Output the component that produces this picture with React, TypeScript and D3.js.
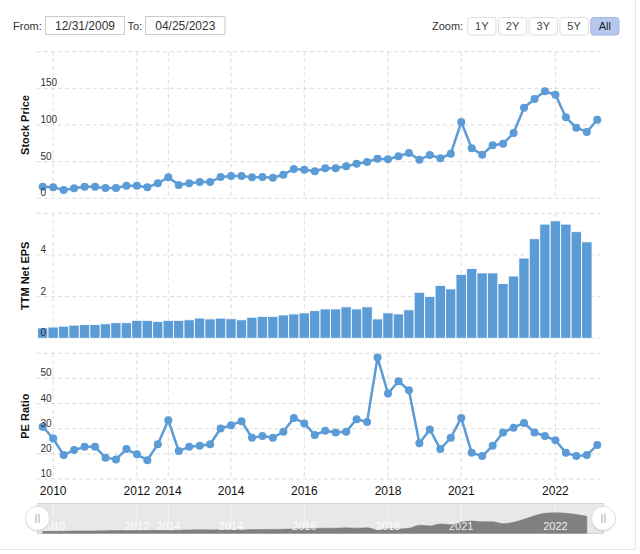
import React from "react";
import * as d3 from "d3";

const priceValues = [
  15.8, 15.0, 11.3, 13.6, 15.8, 15.8, 14.0, 14.0, 17.2, 17.2, 15.0, 20.5, 28.6, 18.1,
  20.5, 22.2, 22.2, 29.0, 30.4, 30.4, 28.6, 29.0, 28.1, 32.2, 40.0, 39.0, 36.8,
  40.9, 40.9, 43.6, 47.2, 49.5, 54.0, 53.2, 57.3, 61.8, 52.7, 59.0, 54.6, 60.8,
  104.0, 68.2, 59.5, 72.3, 74.5, 89.0, 123.6, 135.5, 146.0, 141.3, 110.5, 96.3, 90.5, 107.2,
];

const epsValues = [
  0.5, 0.54, 0.58, 0.63, 0.66, 0.66, 0.7, 0.75, 0.75, 0.86, 0.86, 0.81, 0.86, 0.86,
  0.89, 0.97, 0.93, 0.97, 0.94, 0.89, 1.01, 1.05, 1.05, 1.12, 1.17, 1.22, 1.33,
  1.41, 1.41, 1.51, 1.41, 1.51, 0.93, 1.22, 1.17, 1.37, 2.21, 2.01, 2.54, 2.37,
  3.07, 3.35, 3.14, 3.14, 2.63, 2.99, 3.85, 4.78, 5.48, 5.64, 5.48, 5.12, 4.63,
];

const peValues = [
  30.8, 26.1, 19.5, 21.5, 22.8, 22.8, 18.5, 17.8, 21.9, 19.8, 17.5, 23.8, 33.4, 21.1,
  22.8, 23.2, 23.8, 30.1, 31.4, 33.0, 26.4, 27.1, 26.4, 28.8, 34.3, 32.1, 27.5,
  29.2, 28.5, 28.8, 33.8, 32.7, 58.3, 44.0, 48.9, 45.3, 24.2, 29.7, 21.9, 26.4,
  34.3, 20.4, 19.1, 23.2, 28.5, 30.4, 32.3, 28.5, 27.1, 25.4, 20.4, 19.1, 19.5, 23.5,
];

const tickIndex = [1, 9, 12, 18, 25, 33, 40, 49];
const tickLabels = ["2010", "2012", "2014", "2014", "2016", "2018", "2021", "2022"];

const priceTicks = [0, 50, 100, 150, 200];
const epsTicks = [0, 2, 4, 6];
const peTicks = [10, 20, 30, 40, 50, 60];

const zoomButtons = ["1Y", "2Y", "3Y", "5Y", "All"];
const fromDate = "12/31/2009";
const toDate = "04/25/2023";

const BLUE = "#5b9bd6";
const GRID = "#dcdcdc";
const FONT = "'Liberation Sans', Arial, Helvetica, sans-serif";

const X0 = 37;
const X1 = 600.5;

export default function App() {
  const x = d3
    .scaleBand<number>()
    .domain(d3.range(priceValues.length))
    .range([37.5, 602.5])
    .padding(0);
  const bw = x.bandwidth();
  const cx = (i: number) => (x(i) as number) + bw / 2;

  const yPrice = d3.scaleLinear().domain([0, 200]).range([198.3, 51.7]);
  const yEps = d3.scaleLinear().domain([0, 6]).range([338.3, 213.3]);
  const yPe = d3.scaleLinear().domain([10, 60]).range([479, 353.3]);
  const yNav = d3.scaleLinear().domain([0, 8.2]).range([533.3, 503.3]);

  const priceLine = d3
    .line<number>()
    .x((_, i) => cx(i))
    .y((d) => yPrice(d))(priceValues);
  const peLine = d3
    .line<number>()
    .x((_, i) => cx(i))
    .y((d) => yPe(d))(peValues);
  const navArea = d3
    .area<number>()
    .x((_, i) => cx(i))
    .y0(yNav(0))
    .y1((d) => yNav(d))
    .curve(d3.curveMonotoneX)(epsValues);

  const panels = [
    { scale: yPrice, ticks: priceTicks, title: "Stock Price" },
    { scale: yEps, ticks: epsTicks, title: "TTM Net EPS" },
    { scale: yPe, ticks: peTicks, title: "PE Ratio" },
  ];

  return (
    <svg
      width={640}
      height={554}
      style={{ position: "absolute", left: 0, top: 0, background: "#fff" }}
      fontFamily={FONT}
    >
      <rect x={0} y={0} width={640} height={554} fill="#fff" />
      {/* card border */}
      <line x1={635.5} x2={635.5} y1={0} y2={549.5} stroke="#e6e6e6" />
      <line x1={0} x2={635.5} y1={549.5} y2={549.5} stroke="#e6e6e6" />

      {/* range inputs */}
      <text x={13} y={29.5} fontSize={11} fill="#333">From:</text>
      <rect x={45.5} y={16.5} width={79} height={18} fill="#fff" stroke="#cccccc" />
      <text x={85} y={30} fontSize={12} fill="#333" textAnchor="middle">{fromDate}</text>
      <text x={127.5} y={29.5} fontSize={11} fill="#333">To:</text>
      <rect x={145.5} y={16.5} width={79.5} height={18} fill="#fff" stroke="#cccccc" />
      <text x={185.3} y={30} fontSize={12} fill="#333" textAnchor="middle">{toDate}</text>

      <text x={432} y={29.5} fontSize={11} fill="#333">Zoom:</text>
      {zoomButtons.map((b, i) => {
        const bx = 467.7 + i * 30.75;
        const sel = b === "All";
        return (
          <g key={b}>
            <rect
              x={bx}
              y={17.5}
              width={28.3}
              height={17.5}
              rx={3}
              fill={sel ? "#b7c8f0" : "#fff"}
              stroke={sel ? "#a4b7e6" : "#dedede"}
            />
            <text x={bx + 14.15} y={30} fontSize={11} fill={sel ? "#222" : "#444"} textAnchor="middle">
              {b}
            </text>
          </g>
        );
      })}

      {/* grids and axes */}
      {panels.map((p, pi) => {
        const [top, bottom] = [p.scale.range()[1], p.scale.range()[0]];
        const lastTick = p.ticks[p.ticks.length - 1];
        return (
          <g key={pi}>
            {tickIndex.map((ti) => (
              <line
                key={"v" + ti}
                x1={cx(ti)}
                x2={cx(ti)}
                y1={top}
                y2={bottom}
                stroke={GRID}
                strokeDasharray="4,3"
              />
            ))}
            {p.ticks.map((t) => (
              <line
                key={"h" + t}
                x1={X0}
                x2={X1}
                y1={p.scale(t)}
                y2={p.scale(t)}
                stroke={GRID}
                strokeDasharray="4,3"
              />
            ))}
            <text
              transform={`translate(29,${(top + bottom) / 2}) rotate(-90)`}
              textAnchor="middle"
              fontSize={11}
              fontWeight="bold"
              fill="#111"
            >
              {p.title}
            </text>
          </g>
        );
      })}

      {/* EPS bars */}
      {epsValues.map((v, i) => (
        <rect
          key={i}
          x={x(i)}
          y={yEps(v)}
          width={bw}
          height={yEps(0) - yEps(v)}
          fill={BLUE}
          stroke="#ffffff"
          strokeOpacity={0.85}
          strokeWidth={1}
        />
      ))}

      {/* price line */}
      <path d={priceLine || ""} fill="none" stroke={BLUE} strokeWidth={2.5} strokeLinejoin="round" />
      {priceValues.map((v, i) => (
        <circle key={i} cx={cx(i)} cy={yPrice(v)} r={4} fill={BLUE} />
      ))}

      {/* PE line */}
      <path d={peLine || ""} fill="none" stroke={BLUE} strokeWidth={2.5} strokeLinejoin="round" />
      {peValues.map((v, i) => (
        <circle key={i} cx={cx(i)} cy={yPe(v)} r={4} fill={BLUE} />
      ))}

      {/* y tick labels */}
      {panels.map((p, pi) =>
        p.ticks.slice(0, -1).map((t) => (
          <text key={pi + "-" + t} x={40.5} y={p.scale(t) - 2} fontSize={10} fill="#333">
            {t}
          </text>
        ))
      )}

      {/* x labels */}
      {tickIndex.map((ti, k) => (
        <text key={k} x={cx(ti)} y={495} fontSize={12} fill="#111" textAnchor="middle">
          {tickLabels[k]}
        </text>
      ))}

      {/* navigator */}
      <rect x={37.5} y={503.5} width={566} height={30} fill="#e8e8e8" stroke="#d4d4d4" />
      {tickIndex.map((ti) => (
        <line key={"n" + ti} x1={cx(ti)} x2={cx(ti)} y1={504} y2={533} stroke="#f4f4f4" />
      ))}
      <path d={navArea || ""} fill="#808080" stroke="#777" strokeWidth={0.5} />
      {tickIndex.map((ti, k) => (
        <text key={"nl" + k} x={cx(ti)} y={530} fontSize={11} fill="#ffffff" fillOpacity={0.9} textAnchor="middle">
          {tickLabels[k]}
        </text>
      ))}
      {[37.5, 603.5].map((hx) => (
        <g key={hx}>
          <circle cx={hx} cy={519.5} r={12.5} fill="#000" opacity={0.08} />
          <circle cx={hx} cy={518.3} r={12} fill="#fff" stroke="#e0e0e0" />
          <line x1={hx - 1.5} x2={hx - 1.5} y1={514} y2={523} stroke="#aaa" />
          <line x1={hx + 1.5} x2={hx + 1.5} y1={514} y2={523} stroke="#aaa" />
        </g>
      ))}
    </svg>
  );
}
